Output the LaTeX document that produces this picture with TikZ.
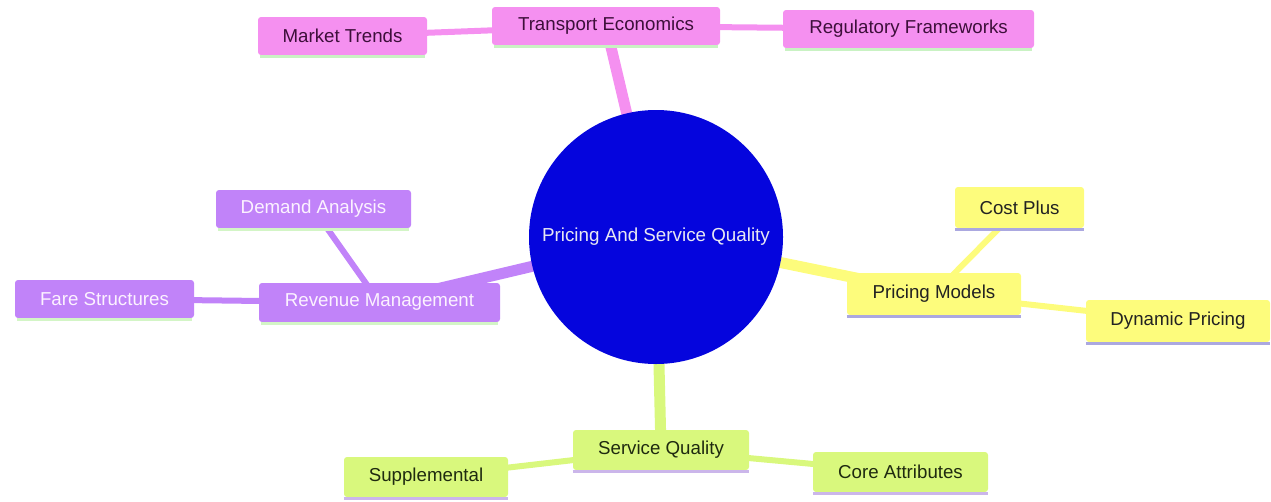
\documentclass[tikz,border=0pt]{standalone}
\usepackage{fontspec}
\setmainfont{Liberation Sans}
\pgfdeclarelayer{bg}
\pgfsetlayers{bg,main}
\definecolor{pinkf}{HTML}{F590F0}
\definecolor{pinkt}{HTML}{3D0F3A}
\definecolor{pinkl}{HTML}{C9F2C3}
\definecolor{purf}{HTML}{C183F9}
\definecolor{purt}{HTML}{FCF2FF}
\definecolor{purl}{HTML}{D3F5C6}
\definecolor{yelf}{HTML}{FDFC7C}
\definecolor{yelt}{HTML}{222222}
\definecolor{yell}{HTML}{ABA8E0}
\definecolor{grnf}{HTML}{D9F87D}
\definecolor{grnt}{HTML}{1F2A10}
\definecolor{grnl}{HTML}{CBB6EA}
\definecolor{hub}{HTML}{0505DD}
\definecolor{hubt}{HTML}{E8E8F2}
\tikzset{
  box/.style={rectangle, rounded corners=3pt, inner sep=0pt, font=\fontsize{18.7}{22}\selectfont},
  pinkbox/.style={box, fill=pinkf, text=pinkt},
  purbox/.style={box, fill=purf, text=purt},
  yelbox/.style={box, fill=yelf, text=yelt},
  grnbox/.style={box, fill=grnf, text=grnt},
  mainedge/.style={line width=11pt},
  subedge/.style={line width=6pt},
  underline/.style={line width=3pt},
}
\begin{document}
\begin{tikzpicture}[x=1pt,y=-1pt]
\useasboundingbox (0,0) rectangle (1271,501);
% hub
\node[circle, fill=hub, text=hubt, minimum size=254pt, inner sep=0pt, font=\fontsize{18.8}{22}\selectfont] (hub) at (656,237) {Pricing And Service Quality};
% pink branch
\node[pinkbox, minimum width=228pt, minimum height=38pt] (te) at (606,26) {Transport Economics};
\node[pinkbox, minimum width=169pt, minimum height=38pt] (mt) at (342.5,36) {Market Trends};
\node[pinkbox, minimum width=251pt, minimum height=38pt] (rf) at (908.5,29) {Regulatory Frameworks};
% purple branch
\node[purbox, minimum width=241pt, minimum height=39pt] (rm) at (379.5,302.5) {Revenue Management};
\node[purbox, minimum width=195pt, minimum height=38pt] (da) at (313.5,209) {Demand Analysis};
\node[purbox, minimum width=179pt, minimum height=38pt] (fs) at (104.5,299) {Fare Structures};
% yellow branch
\node[yelbox, minimum width=174pt, minimum height=42pt] (pm) at (934,294) {Pricing Models};
\node[yelbox, minimum width=129pt, minimum height=41pt] (cp) at (1019.5,207.5) {Cost Plus};
\node[yelbox, minimum width=184pt, minimum height=42pt] (dp) at (1178,321) {Dynamic Pricing};
% green branch
\node[grnbox, minimum width=176pt, minimum height=40pt] (sq) at (661,450) {Service Quality};
\node[grnbox, minimum width=164pt, minimum height=40pt] (su) at (426,477) {Supplemental};
\node[grnbox, minimum width=175pt, minimum height=40pt] (ca) at (900.5,472) {Core Attributes};
% bottom accent lines
\foreach \n in {te,mt,rf} {\draw[pinkl, underline] ([xshift=2pt,yshift=-1.5pt]\n.south west) -- ([xshift=-2pt,yshift=-1.5pt]\n.south east);}
\foreach \n in {rm,da,fs} {\draw[purl, underline] ([xshift=2pt,yshift=-1.5pt]\n.south west) -- ([xshift=-2pt,yshift=-1.5pt]\n.south east);}
\foreach \n in {pm,cp,dp} {\draw[yell, underline] ([yshift=-1.5pt]\n.south west) -- ([yshift=-1.5pt]\n.south east);}
\foreach \n in {sq,su,ca} {\draw[grnl, underline] ([yshift=-1.5pt]\n.south west) -- ([yshift=-1.5pt]\n.south east);}
\begin{pgfonlayer}{bg}
  \draw[pinkf, mainedge] (hub.center) -- (te.center);
  \draw[pinkf, subedge] (te.center) -- (mt.center);
  \draw[pinkf, subedge] (te.center) -- (rf.center);
  \draw[purf, mainedge] (hub.center) -- (rm.center);
  \draw[purf, subedge] (rm.center) -- (da.center);
  \draw[purf, subedge] (rm.center) -- (fs.center);
  \draw[yelf, mainedge] (hub.center) -- (pm.center);
  \draw[yelf, subedge] (pm.center) -- (cp.center);
  \draw[yelf, subedge] (pm.center) -- (dp.center);
  \draw[grnf, mainedge] (hub.center) -- (sq.center);
  \draw[grnf, subedge] (sq.center) -- (su.center);
  \draw[grnf, subedge] (sq.center) -- (ca.center);
\end{pgfonlayer}
\end{tikzpicture}
\end{document}
